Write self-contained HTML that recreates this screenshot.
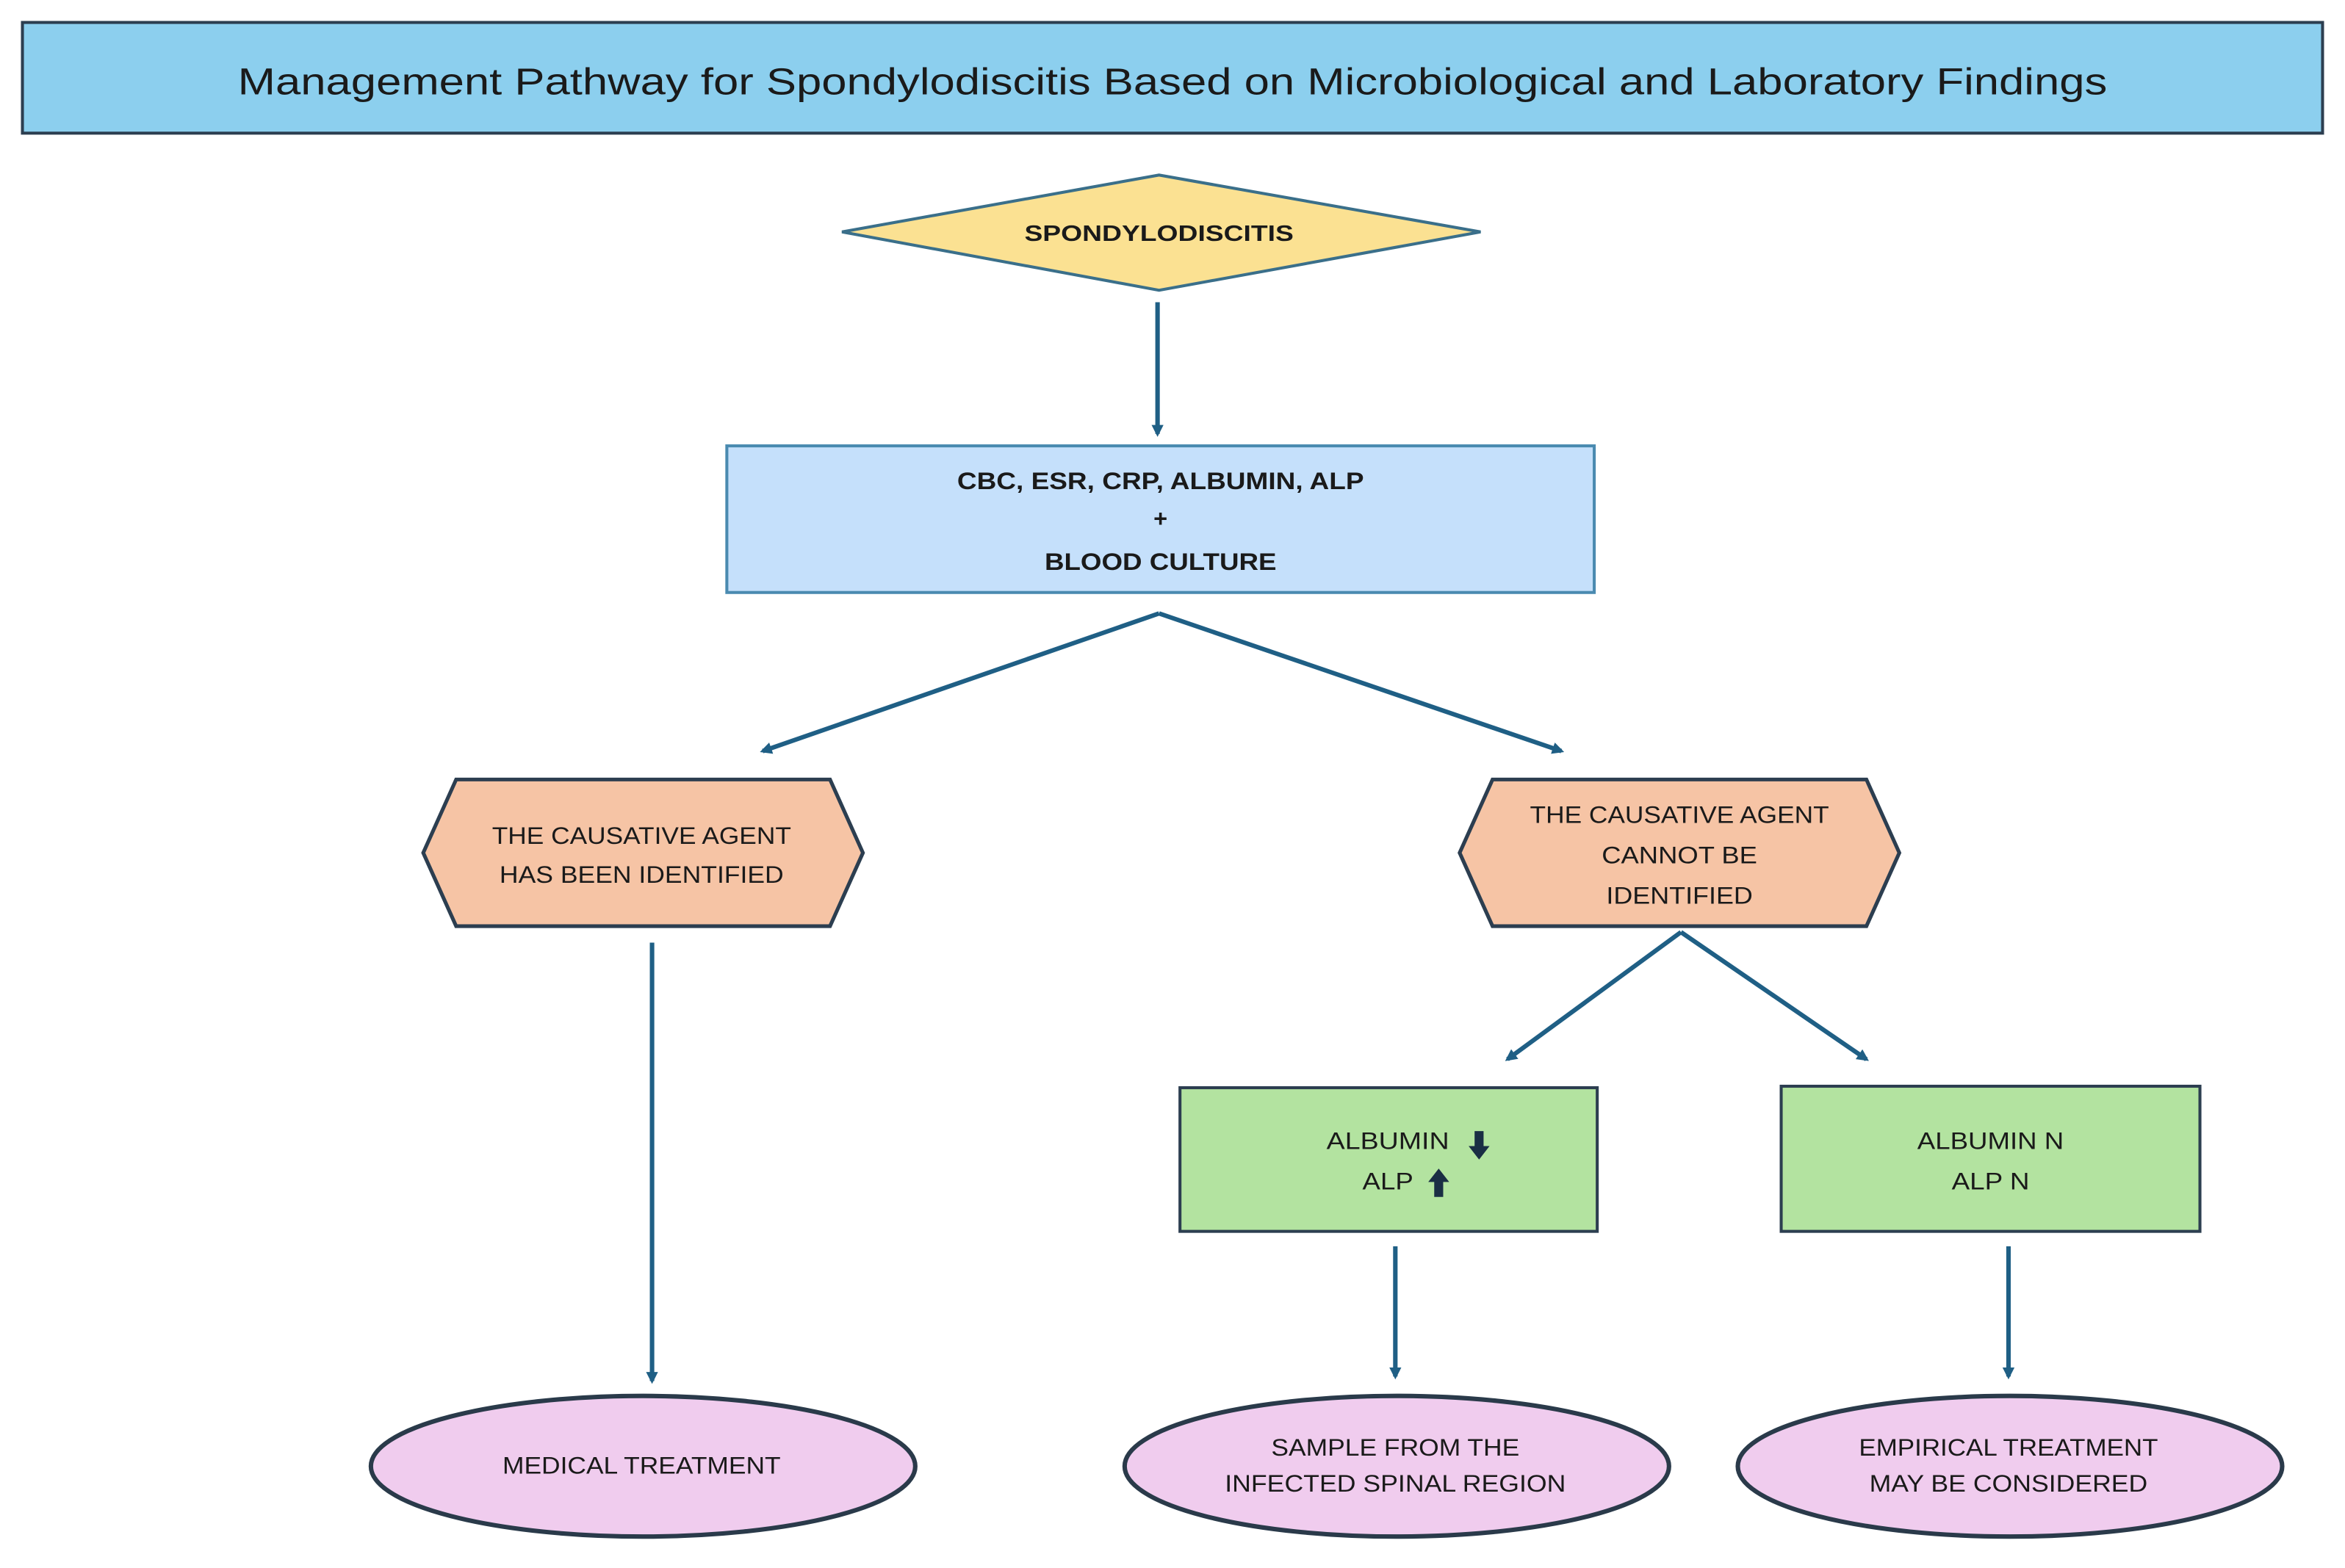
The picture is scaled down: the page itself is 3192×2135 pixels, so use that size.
<!DOCTYPE html>
<html><head><meta charset="utf-8"><style>html,body{margin:0;padding:0;background:#fff}svg{display:block}text{font-family:"Liberation Sans",sans-serif;fill:#1a1a1a}</style></head>
<body>
<svg width="3192" height="2135" viewBox="0 0 1568 1048" preserveAspectRatio="none" xmlns="http://www.w3.org/2000/svg">
<defs><marker id="a" markerWidth="8" markerHeight="8" refX="6" refY="4" orient="auto" markerUnits="userSpaceOnUse"><path d="M0,0 L8,4 L0,8 Z" fill="#1f5f85"/></marker></defs>
<rect x="15" y="15" width="1538" height="74" fill="#8ccfee" stroke="#2c3e50" stroke-width="2"/>
<text x="784" y="63" font-size="25" text-anchor="middle" textLength="1250" lengthAdjust="spacingAndGlyphs">Management Pathway for Spondylodiscitis Based on Microbiological and Laboratory Findings</text>
<polygon points="563,155 775,117 990,155 775,194" fill="#fbe192" stroke="#3a6f8a" stroke-width="2"/>
<text x="775" y="161" font-size="15" font-weight="bold" text-anchor="middle" textLength="180" lengthAdjust="spacingAndGlyphs">SPONDYLODISCITIS</text>
<g stroke="#1f5f85" stroke-width="3" fill="none" marker-end="url(#a)">
<line x1="774" y1="202" x2="774" y2="290"/>
<line x1="775" y1="410" x2="510" y2="502"/>
<line x1="775" y1="410" x2="1044" y2="502"/>
<line x1="436" y1="630" x2="436" y2="923"/>
<line x1="1124" y1="623" x2="1008" y2="708"/>
<line x1="1124" y1="623" x2="1248" y2="708"/>
<line x1="933" y1="833" x2="933" y2="920"/>
<line x1="1343" y1="833" x2="1343" y2="920"/>
</g>
<rect x="486" y="298" width="580" height="98" fill="#c5e0fb" stroke="#4a8ab0" stroke-width="2"/>
<g font-size="16" font-weight="bold" text-anchor="middle">
<text x="776" y="327" textLength="272" lengthAdjust="spacingAndGlyphs">CBC, ESR, CRP, ALBUMIN, ALP</text>
<text x="776" y="352">+</text>
<text x="776" y="381" textLength="155" lengthAdjust="spacingAndGlyphs">BLOOD CULTURE</text>
</g>
<polygon points="283,570 305,521 555,521 577,570 555,619 305,619" fill="#f6c4a5" stroke="#2c3e50" stroke-width="2.5"/>
<polygon points="976,570 998,521 1248,521 1270,570 1248,619 998,619" fill="#f6c4a5" stroke="#2c3e50" stroke-width="2.5"/>
<g font-size="16" text-anchor="middle">
<text x="429" y="564" textLength="200" lengthAdjust="spacingAndGlyphs">THE CAUSATIVE AGENT</text>
<text x="429" y="590" textLength="190" lengthAdjust="spacingAndGlyphs">HAS BEEN IDENTIFIED</text>
<text x="1123" y="550" textLength="200" lengthAdjust="spacingAndGlyphs">THE CAUSATIVE AGENT</text>
<text x="1123" y="577" textLength="104" lengthAdjust="spacingAndGlyphs">CANNOT BE</text>
<text x="1123" y="604" textLength="98" lengthAdjust="spacingAndGlyphs">IDENTIFIED</text>
</g>
<rect x="789" y="727" width="279" height="96" fill="#b3e3a0" stroke="#2c3e50" stroke-width="2"/>
<rect x="1191" y="726" width="280" height="97" fill="#b3e3a0" stroke="#2c3e50" stroke-width="2"/>
<g font-size="16" text-anchor="middle">
<text x="928" y="768" textLength="82" lengthAdjust="spacingAndGlyphs">ALBUMIN</text>
<text x="928" y="795" textLength="34" lengthAdjust="spacingAndGlyphs">ALP</text>
<text x="1331" y="768" textLength="98" lengthAdjust="spacingAndGlyphs">ALBUMIN N</text>
<text x="1331" y="795" textLength="52" lengthAdjust="spacingAndGlyphs">ALP N</text>
</g>
<path d="M986,756 h6 v10 h4 l-7,9 l-7,-9 h4 Z" fill="#1a2e44"/>
<path d="M959,800 h6 v-10 h4 l-7,-9 l-7,9 h4 Z" fill="#1a2e44"/>
<g fill="#f0ccee" stroke="#2a3a4a" stroke-width="3">
<ellipse cx="430" cy="980" rx="182" ry="47"/>
<ellipse cx="934" cy="980" rx="182" ry="47"/>
<ellipse cx="1344" cy="980" rx="182" ry="47"/>
</g>
<g font-size="16" text-anchor="middle">
<text x="429" y="985" textLength="186" lengthAdjust="spacingAndGlyphs">MEDICAL TREATMENT</text>
<text x="933" y="973" textLength="166" lengthAdjust="spacingAndGlyphs">SAMPLE FROM THE</text>
<text x="933" y="997" textLength="228" lengthAdjust="spacingAndGlyphs">INFECTED SPINAL REGION</text>
<text x="1343" y="973" textLength="200" lengthAdjust="spacingAndGlyphs">EMPIRICAL TREATMENT</text>
<text x="1343" y="997" textLength="186" lengthAdjust="spacingAndGlyphs">MAY BE CONSIDERED</text>
</g>
</svg>
</body></html>
